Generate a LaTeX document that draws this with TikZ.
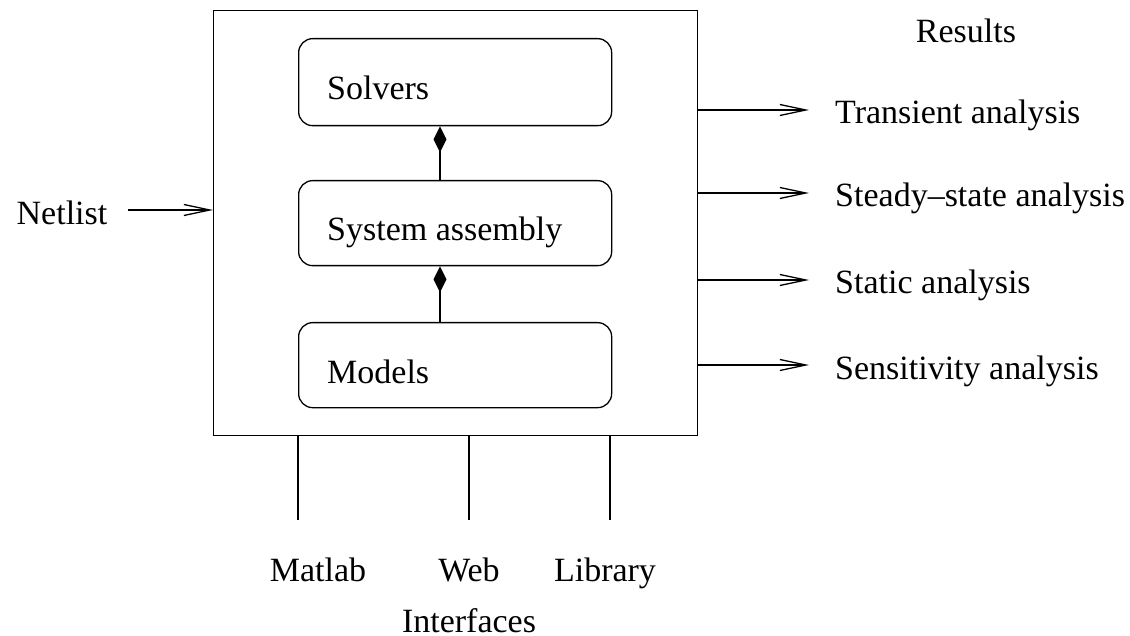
\documentclass[tikz,border=0pt]{standalone}
\usepackage{fontspec}
\setmainfont{Liberation Serif}
\usetikzlibrary{arrows.meta}
\begin{document}
\begin{tikzpicture}[x=1pt,y=-1pt,
  lbl/.style={inner sep=0pt,font=\fontsize{34}{40}\selectfont},
  inbox/.style={draw,line width=1.3pt,rounded corners=14pt},
  line/.style={line width=1.3pt},
  open/.style={line,-{Straight Barb[length=26pt,width=11pt,line width=1.3pt]}},
  dia/.style={line,-{Diamond[length=26pt,width=13pt]}}]
\useasboundingbox (0,0) rectangle (1130,636);
\node[draw,line width=1.3pt,minimum width=484pt,minimum height=425pt,anchor=north west,inner sep=0pt] (main) at (213,10) {};
\node[inbox,minimum width=313pt,minimum height=87pt,anchor=north west,inner sep=0pt] (solv) at (298,38) {};
\node[inbox,minimum width=313pt,minimum height=85pt,anchor=north west,inner sep=0pt] (sys) at (298,180) {};
\node[inbox,minimum width=313pt,minimum height=85pt,anchor=north west,inner sep=0pt] (mod) at (298,322) {};
\node[lbl,anchor=base west] (tsolv) at (327,100) {Solvers};
\node[lbl,anchor=base west] (tsys) at (327,241) {System assembly};
\node[lbl,anchor=base west] (tmod) at (327,383) {Models};
\draw[dia] (sys.north -| 440,0) -- (solv.south -| 440,0);
\draw[dia] (mod.north -| 440,0) -- (sys.south -| 440,0);
\node[lbl,anchor=base] (net) at (62,225) {Netlist};
\coordinate (ns) at (128,210);
\draw[open] (ns) -- (main.west |- ns);
\node[lbl,anchor=base] (res) at (966,43) {Results};
\node[lbl,anchor=base west] (r1) at (835,124) {Transient analysis};
\node[lbl,anchor=base west] (r2) at (835,207) {Steady–state analysis};
\node[lbl,anchor=base west] (r3) at (835,294) {Static analysis};
\node[lbl,anchor=base west] (r4) at (835,379) {Sensitivity analysis};
\foreach \y/\n in {110/a,193/b,280/c,365/d}{
  \coordinate (e\n) at (809,\y);
  \draw[open] (main.east |- e\n) -- (e\n);
}
\foreach \x/\n in {298/a,469/b,610/c}{
  \coordinate (b\n) at (\x,520);
  \draw[line] (main.south -| b\n) -- (b\n);
}
\node[lbl,anchor=base] (mat) at (318,581) {Matlab};
\node[lbl,anchor=base] (web) at (469,581) {Web};
\node[lbl,anchor=base] (lib) at (605,581) {Library};
\node[lbl,anchor=base] (intf) at (469,632) {Interfaces};
\end{tikzpicture}
\end{document}
